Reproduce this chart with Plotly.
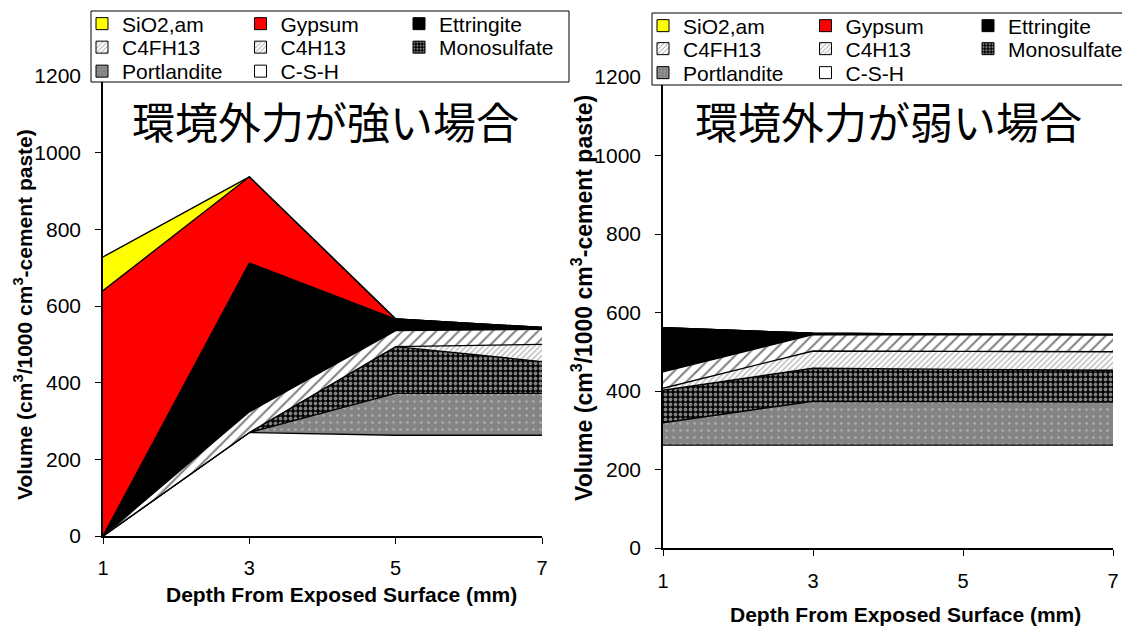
import plotly.graph_objects as go

depth = [1, 3, 5, 7]
x_ticks = [1, 3, 5, 7]
y_ticks = [0, 200, 400, 600, 800, 1000, 1200]

phases = ["C-S-H", "Portlandite", "Monosulfate", "C4H13", "C4FH13", "Ettringite", "Gypsum", "SiO2,am"]

# Left chart (strong environmental action) - volume of each phase (stacked)
strong_csh = [0, 270, 263, 263]
strong_portlandite = [0, 0, 109, 109]
strong_monosulfate = [0, 0, 122, 83]
strong_c4h13 = [0, 0, 0, 45]
strong_c4fh13 = [0, 54, 42, 39]
strong_ettringite = [0, 388, 30, 5]
strong_gypsum = [640, 225, 0, 0]
strong_sio2 = [88, 0, 0, 0]

# Right chart (weak environmental action)
weak_csh = [262, 262, 262, 262]
weak_portlandite = [57, 112, 111, 110]
weak_monosulfate = [83, 84, 82, 81]
weak_c4h13 = [5, 44, 46, 47]
weak_c4fh13 = [42, 42, 42, 43]
weak_ettringite = [112, 3, 2, 1]
weak_gypsum = [0, 0, 0, 0]
weak_sio2 = [0, 0, 0, 0]

title_strong = "環境外力が強い場合"
title_weak = "環境外力が弱い場合"
x_title = "<b>Depth From Exposed Surface (mm)</b>"
y_title = "<b>Volume (cm<sup>3</sup>/1000 cm<sup>3</sup>-cement paste)</b>"

strong = [strong_csh, strong_portlandite, strong_monosulfate, strong_c4h13,
          strong_c4fh13, strong_ettringite, strong_gypsum, strong_sio2]
weak = [weak_csh, weak_portlandite, weak_monosulfate, weak_c4h13,
        weak_c4fh13, weak_ettringite, weak_gypsum, weak_sio2]

styles = {
    "C-S-H": dict(shape="", bgcolor="white", fgcolor="white", size=8, solidity=0.1),
    "Portlandite": dict(shape=".", bgcolor="#848484", fgcolor="#d8d8d8", size=7, solidity=0.12),
    "Monosulfate": dict(shape=".", bgcolor="black", fgcolor="white", size=5, solidity=0.45),
    "C4H13": dict(shape="/", bgcolor="white", fgcolor="#707070", size=4, solidity=0.35),
    "C4FH13": dict(shape="/", bgcolor="white", fgcolor="black", size=8, solidity=0.25),
    "Ettringite": dict(shape="", bgcolor="black", fgcolor="black", size=8, solidity=0.1),
    "Gypsum": dict(shape="", bgcolor="#ff0000", fgcolor="#ff0000", size=8, solidity=0.1),
    "SiO2,am": dict(shape="", bgcolor="#ffff00", fgcolor="#ffff00", size=8, solidity=0.1),
}

# page has an 8px body margin; figure sized to fit the 1130x626 window
OFF = 8
W, H = 1130 - OFF, 626 - OFF


def px(x):
    return (x - OFF) / W


def py(y):
    return 1 - (y - OFF) / H


fig = go.Figure()

for data, xa, ya, grp in [(strong, "x", "y", "s"), (weak, "x2", "y2", "w")]:
    for name, vals in zip(phases, data):
        st = styles[name]
        fig.add_trace(go.Scatter(
            x=depth, y=vals, name=name, xaxis=xa, yaxis=ya, stackgroup=grp,
            mode="lines", line=dict(color="black", width=1.4),
            fillcolor=st["bgcolor"],
            fillpattern=dict(shape=st["shape"], bgcolor=st["bgcolor"], fgcolor=st["fgcolor"],
                             size=st["size"], solidity=st["solidity"]),
            showlegend=False, hoverinfo="skip"))

# legend rows (display order)
rows = [["SiO2,am", "Gypsum", "Ettringite"],
        ["C4FH13", "C4H13", "Monosulfate"],
        ["Portlandite", "C-S-H"]]

legend_layout = {}
for side, (xa, ya, x0, ys, ew) in enumerate([("x", "y", 82, [24, 47.5, 71.5], 113.5),
                                              ("x2", "y2", 643, [26, 49, 73], 117.5)]):
    for r, row in enumerate(rows):
        lname = "legend" if (side == 0 and r == 0) else f"legend{side * 3 + r + 1}"
        for name in row:
            st = styles[name]
            fig.add_trace(go.Bar(
                x=[None], y=[None], name=name, xaxis=xa, yaxis=ya, legend=lname,
                marker=dict(color=st["bgcolor"], line=dict(color="black", width=1),
                            pattern=dict(shape=st["shape"], bgcolor=st["bgcolor"], fgcolor=st["fgcolor"],
                                         size=4 if st["shape"] else 8, solidity=st["solidity"]))))
        legend_layout[lname] = dict(
            orientation="h", x=px(x0), xanchor="left", y=py(ys[r]), yanchor="middle",
            bgcolor="rgba(0,0,0,0)", borderwidth=0, entrywidth=ew, entrywidthmode="pixels",
            font=dict(family="Arial, Liberation Sans", size=21, color="black"),
            itemwidth=30, tracegroupgap=0, traceorder="normal")

axis_common = dict(showgrid=False, zeroline=False, showline=True, linecolor="black", linewidth=1.5,
                   ticks="outside", ticklen=6, tickcolor="black", tickwidth=1.3)
tf = dict(family="Arial, Liberation Sans", size=21, color="black")

fig.update_layout(
    width=W, height=H, margin=dict(l=0, r=0, t=0, b=0, autoexpand=False),
    paper_bgcolor="white", plot_bgcolor="white", showlegend=True,
    xaxis=dict(domain=[px(103), px(542)], range=[1, 7], tickvals=x_ticks, anchor="y",
               tickfont=dict(tf, size=20), ticklabelstandoff=7, **axis_common),
    yaxis=dict(domain=[py(536), py(76)], range=[0, 1200], tickvals=y_ticks, anchor="x",
               tickfont=tf, ticklabelstandoff=10, **axis_common),
    xaxis2=dict(domain=[px(663), px(1113)], range=[1, 7], tickvals=x_ticks, anchor="y2",
                tickfont=dict(tf, size=20), ticklabelstandoff=8, **axis_common),
    yaxis2=dict(domain=[py(548), py(77)], range=[0, 1200], tickvals=y_ticks, anchor="x2",
                tickfont=tf, ticklabelstandoff=10, **axis_common),
    **legend_layout,
)

# legend boxes
fig.add_shape(type="rect", xref="paper", yref="paper", x0=px(91), x1=px(569),
              y0=py(82), y1=py(11), line=dict(color="black", width=1), fillcolor="white", layer="above")
fig.add_shape(type="rect", xref="paper", yref="paper", x0=px(652), x1=px(1145),
              y0=py(85), y1=py(13), line=dict(color="black", width=1), fillcolor="white", layer="above")

annos = [
    dict(text=title_strong, x=px(325), y=py(124), font=dict(size=43)),
    dict(text=title_weak, x=px(888), y=py(124), font=dict(size=43)),
    dict(text=x_title, x=px(341), y=py(594), font=dict(size=21)),
    dict(text=x_title, x=px(905), y=py(614), font=dict(size=21)),
    dict(text=y_title, x=px(23), y=py(315), font=dict(size=21), textangle=-90),
    dict(text=y_title, x=px(582), y=py(298), font=dict(size=23), textangle=-90),
]
for a in annos:
    f = dict(family="Arial, Liberation Sans, Noto Sans CJK JP", color="black")
    f.update(a.pop("font"))
    fig.add_annotation(xref="paper", yref="paper", showarrow=False, xanchor="center", yanchor="middle",
                       font=f, **a)

fig.write_html("out.html")
